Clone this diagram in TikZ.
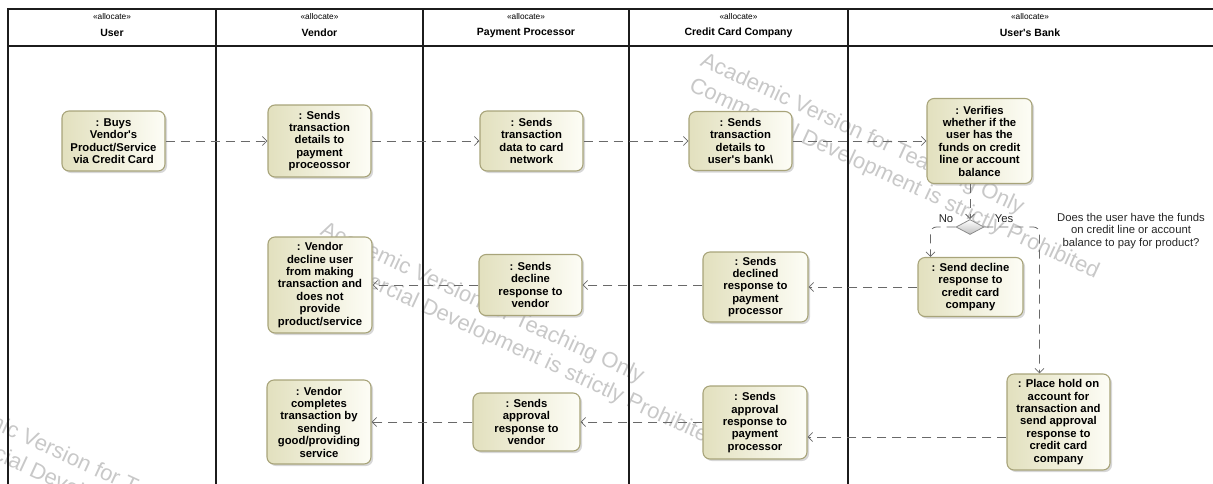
\documentclass[tikz,border=0pt]{standalone}
\usepackage{fontspec}
\setmainfont{Liberation Sans}
\usetikzlibrary{shapes.geometric,arrows.meta,shadows,calc}

\definecolor{laneInk}{RGB}{28,28,28}
\definecolor{actBorder}{RGB}{168,164,122}
\definecolor{actDark}{RGB}{226,224,190}
\definecolor{actLight}{RGB}{253,253,246}
\definecolor{flowInk}{RGB}{105,105,105}
\definecolor{markInk}{RGB}{200,200,200}
\newcommand{\apos}{\textquotesingle}

\begin{document}
\begin{tikzpicture}[x=1pt,y=-1pt,
  lane/.style={draw=laneInk, line width=1.6pt},
  stereo/.style={font=\fontsize{8.3}{9}\selectfont, inner sep=0pt},
  lanename/.style={font=\bfseries\fontsize{10.5}{12}\selectfont, inner sep=0pt},
  action/.style={draw=actBorder, line width=1.1pt, rounded corners=7pt,
    left color=actDark, right color=actLight,
    drop shadow={shadow xshift=2pt, shadow yshift=-2pt, fill=black!35, opacity=0.45},
    align=center, inner sep=0pt, text=black,
    font=\bfseries\fontsize{11.3}{12.4}\selectfont},
  decision/.style={diamond, draw=black!45, line width=0.8pt, inner sep=0pt,
    minimum width=28pt, minimum height=15pt, top color=white, bottom color=black!25},
  flow/.style={draw=flowInk, line width=0.8pt, dash pattern=on 9pt off 6pt,
    -{Straight Barb[length=4.5pt,width=9pt]}},
  guard/.style={font=\fontsize{11.3}{12.4}\selectfont, inner sep=0pt, text=black!85},
  note/.style={font=\fontsize{11.3}{12.6}\selectfont, align=center, inner sep=0pt, text=black!85},
  watermark/.style={text=markInk, font=\fontsize{22}{27}\selectfont, align=left,
    inner sep=0pt, anchor=north west, rotate=-24.8}
]
\useasboundingbox (0,0) rectangle (1213,483);

% licence watermark, repeated diagonally behind the diagram
\node[watermark] (wm1) at (706,51) {Academic Version for Teaching Only\\Commercial Development is strictly Prohibited};
\node[watermark] (wm2) at (326,220) {Academic Version for Teaching Only\\Commercial Development is strictly Prohibited};
\node[watermark] (wm3) at (-66,384) {Academic Version for Teaching Only\\Commercial Development is strictly Prohibited};

% swimlane frame
\draw[lane] (8,490) -- (8,9) -- (1220,9);
\draw[lane] (8,46) -- (1220,46);
\foreach \lx in {216,423,629,848} \draw[lane] (\lx,9) -- (\lx,490);

% lane headers
\node[stereo] (s1) at (112,17) {«allocate»};
\node[lanename] (h1) at (112,33) {User};
\node[stereo] (s2) at (319.5,17) {«allocate»};
\node[lanename] (h2) at (319.5,33) {Vendor};
\node[stereo] (s3) at (526,17) {«allocate»};
\node[lanename] (h3) at (526,33) {Payment Processor};
\node[stereo] (s4) at (738.5,17) {«allocate»};
\node[lanename] (h4) at (738.5,33) {Credit Card Company};
\node[stereo] (s5) at (1030,17) {«allocate»};
\node[lanename] (h5) at (1030,33) {User\apos s Bank};

% actions
\node[action, minimum width=103, minimum height=60] (n1) at (113.5,141) {: Buys\\Vendor\apos s\\Product/Service\\via Credit Card};
\node[action, minimum width=103, minimum height=72] (n2) at (319.5,141) {: Sends\\transaction\\details to\\payment\\proceossor};
\node[action, minimum width=103, minimum height=60] (n3) at (531.5,141) {: Sends\\transaction\\data to card\\network};
\node[action, minimum width=103, minimum height=59] (n4) at (740.5,141) {: Sends\\transaction\\details to\\user\apos s bank\textbackslash};
\node[action, minimum width=105, minimum height=85] (n5) at (979.5,141) {: Verifies\\whether if the\\user has the\\funds on credit\\line or account\\balance};

\node[decision] (d) at (970,227) {};
\node[guard] (no) at (946,219) {No};
\node[guard] (yes) at (1004,219) {Yes};
\node[note] (q) at (1131,231) {Does the user have the funds\\on credit line or account\\balance to pay for product?};

\node[action, minimum width=105, minimum height=59] (n7) at (970.5,287) {: Send decline\\response to\\credit card\\company};
\node[action, minimum width=105, minimum height=70] (n8) at (755.5,287) {: Sends\\declined\\response to\\payment\\processor};
\node[action, minimum width=103, minimum height=61] (n9) at (530.5,285) {: Sends\\decline\\response to\\vendor};
\node[action, minimum width=104, minimum height=96] (n10) at (320,285) {: Vendor\\decline user\\from making\\transaction and\\does not\\provide\\product/service};

\node[action, minimum width=103, minimum height=96] (n11) at (1058.5,422) {: Place hold on\\account for\\transaction and\\send approval\\response to\\credit card\\company};
\node[action, minimum width=104, minimum height=73] (n12) at (755,422.5) {: Sends\\approval\\response to\\payment\\processor};
\node[action, minimum width=107, minimum height=58] (n13) at (526.5,422) {: Sends\\approval\\response to\\vendor};
\node[action, minimum width=104, minimum height=84] (n14) at (319,422) {: Vendor\\completes\\transaction by\\sending\\good/providing\\service};

% control flows
\draw[flow] (n1) -- (n2);
\draw[flow] (n2) -- (n3);
\draw[flow] (n3) -- (n4);
\draw[flow] (n4) -- (n5);
\draw[flow] (d.north |- n5.south) -- (d.north);
\draw[flow, rounded corners=6pt] (d.west) -| ([xshift=13pt]n7.north west);
\draw[flow, rounded corners=6pt] (d.east) -| ([xshift=33pt]n11.north west);

\draw[flow] (n7) -- (n8);
\draw[flow] (n8.west |- n9.east) -- (n9.east);
\draw[flow] (n9) -- (n10);

\draw[flow] ([yshift=-15pt]n11.west) -- ([yshift=-15pt]n11.west -| n12.east);
\draw[flow] (n12.west |- n13.east) -- (n13.east);
\draw[flow] (n13) -- (n14);
\end{tikzpicture}
\end{document}
